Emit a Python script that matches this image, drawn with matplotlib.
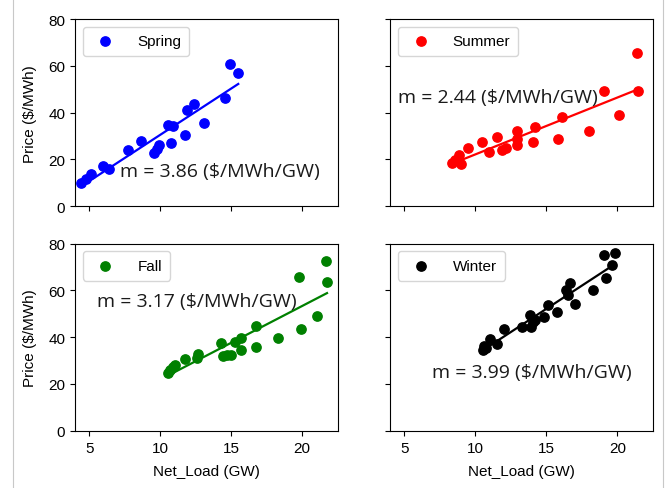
import numpy as np
import matplotlib
matplotlib.use("Agg")
import matplotlib.pyplot as plt
from matplotlib.lines import Line2D

plt.rcParams['font.family'] = ['Liberation Sans', 'DejaVu Sans']

seasons = ["Spring", "Summer", "Fall", "Winter"]
colors = ["blue", "red", "green", "black"]
slope_labels = ["m = 3.86 ($/MWh/GW)", "m = 2.44 ($/MWh/GW)",
                "m = 3.17 ($/MWh/GW)", "m = 3.99 ($/MWh/GW)"]

spring_load = [4.46, 4.76, 5.12, 5.99, 6.39, 7.76, 8.66, 9.6, 9.93, 9.8,
               10.52, 10.9, 10.75, 11.72, 11.89, 12.38, 13.11, 14.6, 14.95, 15.5]
spring_price = [10.1, 11.8, 13.6, 17.2, 16.1, 23.9, 27.7, 22.7, 26.0, 24.5,
                34.8, 34.2, 27.0, 30.5, 41.3, 43.8, 35.7, 46.2, 60.8, 57.0]

summer_load = [8.36, 8.53, 8.81, 8.95, 9.47, 10.46, 10.95, 11.52, 11.87, 12.13,
               12.93, 12.93, 12.93, 14.06, 14.18, 15.78, 16.11, 17.99, 19.05,
               20.11, 21.35, 21.47]
summer_price = [18.6, 19.6, 21.7, 18.2, 24.9, 27.4, 23.2, 29.5, 23.9, 24.9,
                32.0, 28.8, 26.0, 27.4, 33.8, 28.6, 38.1, 32.0, 49.4,
                39.1, 65.3, 49.4]

fall_load = [10.52, 10.71, 10.94, 11.06, 11.77, 12.59, 12.66, 14.32, 14.41,
             14.72, 15.0, 15.24, 15.66, 15.66, 16.72, 16.77, 18.3, 19.9, 19.79,
             21.08, 21.67, 21.75]
fall_price = [24.9, 25.9, 27.3, 28.3, 30.6, 31.2, 33.0, 37.7, 31.9,
              32.6, 32.6, 38.0, 39.7, 34.4, 44.7, 35.9, 39.7, 43.4, 65.8,
              49.1, 72.6, 63.6]

winter_load = [10.51, 10.63, 10.75, 11.05, 11.5, 12.03, 13.27, 13.84, 13.9,
               14.02, 14.2, 14.84, 15.08, 15.73, 16.37, 16.55, 16.66, 17.0,
               18.31, 19.18, 19.06, 19.6, 19.83]
winter_price = [34.4, 36.3, 35.2, 39.4, 37.3, 43.7, 44.4, 49.7, 44.4,
                46.5, 47.3, 48.7, 53.9, 50.8, 60.1, 57.9, 63.3, 54.4,
                60.1, 65.3, 75.3, 70.7, 76.1]

loads = [spring_load, summer_load, fall_load, winter_load]
prices = [spring_price, summer_price, fall_price, winter_price]
label_pos = [(7.17, 14.9), (4.56, 46.8), (5.54, 55.6), (6.95, 25.2)]

fig, axes = plt.subplots(2, 2, figsize=(6.69, 4.89), dpi=100, sharex=True, sharey=True)
fig.subplots_adjust(left=0.112, right=0.976, top=0.959, bottom=0.117,
                    wspace=0.2, hspace=0.2)

for ax, name, c, x, y, lab, pos in zip(axes.flat, seasons, colors, loads, prices,
                                       slope_labels, label_pos):
    x = np.array(x)
    y = np.array(y)
    ax.scatter(x, y, s=45, color=c, label=name, zorder=3)
    k, b = np.polyfit(x, y, 1)
    xs = np.array([x.min(), x.max()])
    ax.plot(xs, k * xs + b, color=c, lw=1.6, zorder=2)
    ax.legend(loc="upper left", fontsize=11, handletextpad=1.1, borderpad=0.5)
    ax.text(pos[0], pos[1], lab, fontsize=14, family=['Open Sans', 'DejaVu Sans'],
            va="center", ha="left", color="#1a1a1a")
    ax.tick_params(labelsize=11)

axes[0, 0].set_xlim(4.0, 22.5)
axes[0, 0].set_ylim(0, 80)
axes[0, 0].set_yticks([0, 20, 40, 60, 80])
axes[0, 0].set_xticks([5, 10, 15, 20])
for ax in axes[:, 0]:
    ax.set_ylabel("Price ($/MWh)", fontsize=11, labelpad=8)
for ax in axes[1, :]:
    ax.set_xlabel("Net_Load (GW)", fontsize=11, labelpad=7)

for xf in (13 / 669, 663 / 669):
    fig.add_artist(Line2D([xf, xf], [0, 1], transform=fig.transFigure,
                          color="#c8c8c8", lw=0.8))

fig.savefig("out.png", dpi=100)
